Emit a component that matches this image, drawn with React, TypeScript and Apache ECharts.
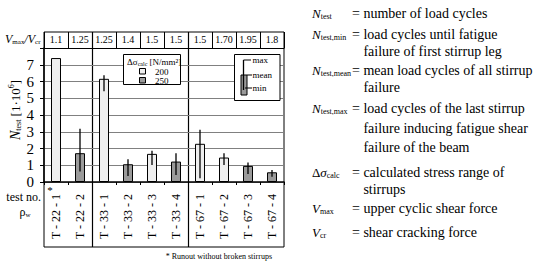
import React, { useEffect, useRef } from 'react';
import * as echarts from 'echarts';

const testNos = ['T - 22 - 1', 'T - 22 - 2', 'T - 33 - 1', 'T - 33 - 2', 'T - 33 - 3', 'T - 33 - 4', 'T - 67 - 1', 'T - 67 - 2', 'T - 67 - 3', 'T - 67 - 4'];
const vRatio = ['1.1', '1.25', '1.25', '1.4', '1.5', '1.5', '1.5', '1.70', '1.95', '1.8'];
const stressRange = [200, 250, 200, 250, 200, 250, 200, 200, 250, 250];
const nMean = [7.4, 1.72, 6.16, 1.06, 1.68, 1.22, 2.28, 1.46, 0.96, 0.58];
const nMin: (number | null)[] = [null, 0.62, 5.42, 0.36, 1.02, 0.42, 0.22, 1.02, 0.48, 0.32];
const nMax: (number | null)[] = [null, 3.18, 6.38, 1.36, 1.86, 1.72, 3.12, 1.72, 1.16, 0.72];
const groupStarts = [2, 6];
const yTickLabels = ['0', '1', '2', '3', '4', '5', '6', '7'];
const legendStress = ['200', '250'];

const FONT = 'Liberation Serif';
const LIGHT = '#efefef';
const DARK = '#9a9a9a';

const L = 44, R = 284, TABLE_TOP = 32, PLOT_TOP = 48, PLOT_BOTTOM = 182, BOX_BOTTOM = 247;

let ctx: CanvasRenderingContext2D | null = null;
function tw(t: string, size: number, italic?: boolean) {
  if (!ctx) ctx = document.createElement('canvas').getContext('2d');
  if (!ctx) return t.length * size * 0.5;
  ctx.font = `${italic ? 'italic ' : ''}${size}px ${FONT}`;
  return ctx.measureText(t).width;
}

type Part = { t: string; s: number; it?: boolean; dy?: number };
function seq(parts: Part[], x: number, y: number, align: 'left' | 'center' | 'right' = 'left') {
  const widths = parts.map((p) => tw(p.t, p.s, p.it));
  const total = widths.reduce((a, b) => a + b, 0);
  let cx = align === 'left' ? x : align === 'center' ? x - total / 2 : x - total;
  const out: any[] = [];
  parts.forEach((p, i) => {
    out.push({
      type: 'text',
      x: cx,
      y: y + (p.dy || 0),
      silent: true,
      style: {
        text: p.t,
        fontSize: p.s,
        fontFamily: FONT,
        fontStyle: p.it ? 'italic' : 'normal',
        fill: '#000000',
        textAlign: 'left',
        textVerticalAlign: 'middle',
        verticalAlign: 'middle',
      },
    });
    cx += widths[i];
  });
  return out;
}

function line(x1: number, y1: number, x2: number, y2: number, w = 1, color = '#000') {
  return { type: 'line', silent: true, shape: { x1, y1, x2, y2 }, style: { stroke: color, lineWidth: w } };
}

const App: React.FC = () => {
  const ref = useRef<HTMLDivElement>(null);
  useEffect(() => {
    if (!ref.current) return;
    const chart = echarts.init(ref.current, null, { renderer: 'svg' });
    const catW = (R - L) / testNos.length;

    const graphics: any[] = [];
    graphics.push({ type: 'rect', silent: true, shape: { x: L, y: TABLE_TOP, width: R - L, height: BOX_BOTTOM - TABLE_TOP }, style: { fill: 'none', stroke: '#000', lineWidth: 1 } });
    groupStarts.forEach((g) => {
      const x = Math.round(L + g * catW) + 0.5;
      graphics.push(line(x, TABLE_TOP, x, BOX_BOTTOM, 1.2));
    });
    graphics.push(...seq([
      { t: 'V', s: 12, it: true },
      { t: 'max', s: 7, dy: 3 },
      { t: '/', s: 12, it: true },
      { t: 'V', s: 12, it: true },
      { t: 'cr', s: 7, dy: 3 },
    ], 5, 39));
    graphics.push(...seq([{ t: 'test no.', s: 12 }], 41, 197, 'right'));
    graphics.push(...seq([{ t: 'ρ', s: 12 }, { t: 'w', s: 7, dy: 3 }], 25, 212, 'center'));
    graphics.push(...seq([{ t: '*', s: 11 }], 50, 190, 'center').map((e) => ({ ...e, z: 20 })));
    graphics.push({
      type: 'group',
      x: 15,
      y: 110,
      rotation: Math.PI / 2,
      children: seq([
        { t: 'N', s: 14, it: true },
        { t: 'test', s: 8, dy: 3 },
        { t: ' [1·10', s: 13 },
        { t: '6', s: 8, dy: -4 },
        { t: ']', s: 13 },
      ], 0, 0, 'center'),
    });
    graphics.push({ type: 'rect', silent: true, shape: { x: 123.5, y: 54.5, width: 57, height: 30 }, style: { fill: '#fff', stroke: '#000', lineWidth: 1 }, z: 10 });
    graphics.push(...seq([
      { t: 'Δσ', s: 9 },
      { t: 'calc', s: 6, dy: 2 },
      { t: ' [N/mm²]', s: 9 },
    ], 127, 62).map((e) => ({ ...e, z: 11 })));
    legendStress.forEach((lab, i) => {
      const yy = 68.5 + i * 9;
      graphics.push({ type: 'rect', silent: true, z: 11, shape: { x: 139.5, y: yy, width: 6, height: 5.5 }, style: { fill: i === 0 ? LIGHT : DARK, stroke: '#000', lineWidth: 1 } });
      graphics.push(...seq([{ t: lab, s: 9 }], 155, yy + 3).map((e) => ({ ...e, z: 11 })));
    });
    graphics.push({ type: 'rect', silent: true, shape: { x: 234.5, y: 54.5, width: 45.5, height: 46 }, style: { fill: '#fff', stroke: '#000', lineWidth: 1 }, z: 10 });
    graphics.push({ type: 'rect', silent: true, z: 11, shape: { x: 241, y: 75, width: 6, height: 20 }, style: { fill: DARK, stroke: '#000', lineWidth: 1 } });
    graphics.push({ ...line(243.5, 60, 243.5, 90, 1.3), z: 12 });
    graphics.push({ ...line(243.5, 60, 251, 60, 1), z: 12 });
    graphics.push({ ...line(247, 75, 252, 75, 1), z: 12 });
    graphics.push({ ...line(245, 88, 252, 88, 1), z: 12 });
    graphics.push(...seq([{ t: 'max', s: 9 }], 252.5, 60).map((e) => ({ ...e, z: 12 })));
    graphics.push(...seq([{ t: 'mean', s: 9 }], 252.5, 74.5).map((e) => ({ ...e, z: 12 })));
    graphics.push(...seq([{ t: 'min', s: 9 }], 252.5, 87.5).map((e) => ({ ...e, z: 12 })));
    graphics.push(...seq([{ t: '* Runout without broken stirrups', s: 8 }], 272, 256, 'right'));

    const LX = 312, EX = 352, BS = 14, NS = 13, SS = 8;
    const defs: { lab: Part[]; lines: string[]; ys: number[] }[] = [
      { lab: [{ t: 'N', s: NS, it: true }, { t: 'test', s: SS, dy: 3 }], lines: ['= number of load cycles'], ys: [13] },
      { lab: [{ t: 'N', s: NS, it: true }, { t: 'test,min', s: SS, dy: 3 }], lines: ['= load cycles until fatigue', 'failure of first stirrup leg'], ys: [34, 51] },
      { lab: [{ t: 'N', s: NS, it: true }, { t: 'test,mean', s: SS, dy: 3 }], lines: ['= mean load cycles of all stirrup', 'failure'], ys: [70, 87] },
      { lab: [{ t: 'N', s: NS, it: true }, { t: 'test,max', s: SS, dy: 3 }], lines: ['= load cycles of the last stirrup', 'failure inducing fatigue shear', 'failure of the beam'], ys: [108, 128, 147] },
      { lab: [{ t: 'Δ', s: NS }, { t: 'σ', s: NS, it: true }, { t: 'calc', s: SS, dy: 3 }], lines: ['= calculated stress range of', 'stirrups'], ys: [172, 189] },
      { lab: [{ t: 'V', s: NS, it: true }, { t: 'max', s: SS, dy: 3 }], lines: ['= upper cyclic shear force'], ys: [208] },
      { lab: [{ t: 'V', s: NS, it: true }, { t: 'cr', s: SS, dy: 3 }], lines: ['= shear cracking force'], ys: [232] },
    ];
    defs.forEach((d) => {
      graphics.push(...seq(d.lab, LX, d.ys[0]));
      d.lines.forEach((ln, i) => {
        const x = i === 0 ? EX : EX + tw('= ', BS);
        graphics.push(...seq([{ t: ln, s: BS }], x, d.ys[i]));
      });
    });

    const errData = nMin
      .map((mn, i) => (mn == null || nMax[i] == null ? null : [i, mn, nMax[i]]))
      .filter((d) => d != null);

    chart.setOption({
      animation: false,
      backgroundColor: '#fff',
      textStyle: { fontFamily: FONT },
      grid: { left: L, right: 550 - R, top: PLOT_TOP, bottom: 264 - PLOT_BOTTOM, containLabel: false },
      xAxis: [
        {
          type: 'category',
          data: testNos,
          position: 'bottom',
          boundaryGap: true,
          axisLine: { show: true, lineStyle: { color: '#000', width: 1.5 } },
          axisTick: { show: true, length: 3, interval: 0, lineStyle: { color: '#000' } },
          axisLabel: { interval: 0, rotate: 90, margin: 12, fontSize: 12, fontFamily: FONT, color: '#000' },
          splitLine: { show: false },
        },
        {
          type: 'category',
          data: vRatio,
          position: 'top',
          boundaryGap: true,
          axisLine: { show: true, lineStyle: { color: '#000', width: 1.2 } },
          axisTick: { show: true, length: 16, interval: 0, lineStyle: { color: '#000' } },
          axisLabel: { interval: 0, margin: 4, fontSize: 10, fontFamily: FONT, color: '#000' },
          splitLine: { show: false },
        },
      ],
      yAxis: {
        type: 'value',
        min: 0,
        max: 8,
        interval: 1,
        axisLine: { show: true, lineStyle: { color: '#000', width: 1.5 } },
        axisTick: { show: true, length: 4, lineStyle: { color: '#000' } },
        axisLabel: {
          margin: 10,
          fontSize: 15,
          fontFamily: FONT,
          color: '#000',
          formatter: (v: number) => (yTickLabels[v] !== undefined ? yTickLabels[v] : ''),
        },
        splitLine: { show: true, lineStyle: { color: '#808080', width: 1 } },
      },
      graphic: graphics,
      series: [
        {
          type: 'bar',
          xAxisIndex: 0,
          barWidth: 10,
          data: nMean.map((v, i) => ({
            value: v,
            itemStyle: { color: stressRange[i] === 200 ? LIGHT : DARK, borderColor: '#000', borderWidth: 1 },
          })),
          z: 3,
        },
        {
          type: 'custom',
          xAxisIndex: 0,
          data: errData,
          encode: { x: 0, y: [1, 2] },
          z: 4,
          renderItem: (params: any, api: any) => {
            const i = api.value(0);
            const lo = api.coord([i, api.value(1)]);
            const hi = api.coord([i, api.value(2)]);
            return {
              type: 'line',
              shape: { x1: lo[0], y1: lo[1], x2: hi[0], y2: hi[1] },
              style: { stroke: '#000', lineWidth: 1.3 },
            };
          },
        },
      ],
    });
    return () => chart.dispose();
  }, []);
  return <div ref={ref} style={{ width: 550, height: 264, position: 'absolute', left: 0, top: 0 }} />;
};

export default App;
